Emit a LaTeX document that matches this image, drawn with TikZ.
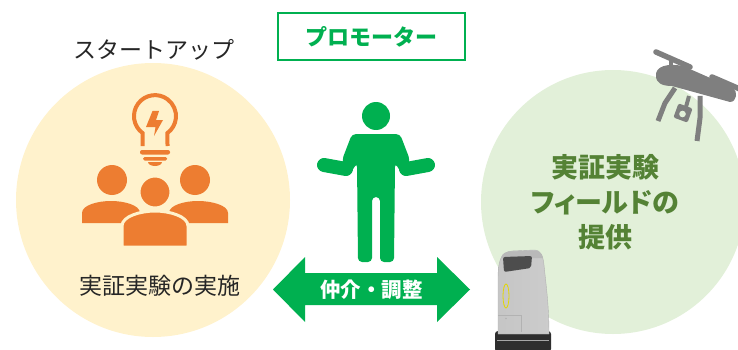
\documentclass[tikz,border=0pt]{standalone}
\usepackage{fontspec}
\newfontfamily\jp{Noto Sans CJK JP}
\newfontfamily\jpp{Noto Sans CJK JP}[RawFeature=+palt]
\definecolor{creamfill}{HTML}{FFF2CC}
\definecolor{mintfill}{HTML}{E2F0D9}
\definecolor{iconorange}{HTML}{ED7D31}
\definecolor{promogreen}{HTML}{00B050}
\definecolor{fieldgreen}{HTML}{548235}
\definecolor{textdark}{HTML}{262626}
\definecolor{dronegray}{HTML}{7F7F7F}
\definecolor{robotbase}{HTML}{2E2E2E}
\definecolor{robotscreen}{HTML}{4D4D4D}
\begin{document}
\begin{tikzpicture}[x=1pt,y=1pt,
  label/.style={font=\jp\fontsize{23}{27}\selectfont, text=textdark, inner sep=0pt},
  boldlabel/.style={font=\jp\bfseries\fontsize{22}{26}\selectfont, inner sep=0pt},
  fieldlabel/.style={font=\jpp\bfseries\fontsize{27}{35}\selectfont, text=fieldgreen, align=center, inner sep=0pt},
  orangefill/.style={fill=iconorange},
  greenfill/.style={fill=promogreen},
  dronepart/.style={draw=dronegray, line width=5.5},
]
\useasboundingbox (0,0) rectangle (738,-350);
\clip (0,0) rectangle (738,-350);

% the two background discs
\fill[creamfill] (153,-200) circle (137);
\fill[mintfill] (613,-202) circle (132);

% promoter box
\node[draw=promogreen, line width=1.8, fill=white, minimum width=187, minimum height=47,
      boldlabel, text=promogreen] (promoter) at (371.5,-36.5) {プロモーター};

% startup side labels
\node[label] (startup) at (154,-50) {スタートアップ};
\node[label] (trial) at (159.5,-286) {実証実験の実施};

% light bulb
\draw[iconorange, line width=4] (142.5,-146) -- (142.5,-133) arc (233.5:-53.5:21) -- (167.5,-146);
\fill[iconorange, rounded corners=2] (140,-150) rectangle (170,-154.5);
\fill[iconorange, rounded corners=1.5] (143,-157) rectangle (167,-160.5);
\fill[iconorange] (148,-162) arc (180:360:7 and 4) -- cycle;
\fill[iconorange] (152.5,-111) -- (159,-111) -- (156,-120) -- (163,-120)
   -- (154,-136) -- (155.5,-127) -- (146,-127) -- cycle;

% three people
\fill[orangefill] (112,-180) circle (15);
\fill[orangefill] (195,-180) circle (15);
\fill[orangefill] (82,-223) -- (82,-213) .. controls (82,-205) and (98,-201) .. (111,-201)
   .. controls (124,-201) and (140,-205) .. (140,-213) -- (140,-223) -- cycle;
\fill[orangefill] (169,-223) -- (169,-213) .. controls (169,-205) and (185,-201) .. (198,-201)
   .. controls (211,-201) and (228,-205) .. (228,-213) -- (228,-223) -- cycle;
\filldraw[orangefill, draw=creamfill, line width=3] (122,-247) -- (122,-226)
   .. controls (122,-216) and (141,-211) .. (155,-211)
   .. controls (169,-211) and (188,-216) .. (188,-226) -- (188,-247) -- cycle;
\filldraw[orangefill, draw=creamfill, line width=3] (155,-192) circle (16);

% promoter figure
\fill[greenfill] (376,-116) circle (14);
\fill[greenfill, rounded corners=4] (352,-134) -- (400,-134) -- (410,-160) -- (404,-177)
   -- (395,-163) -- (394,-262) -- (380,-262) -- (380,-197) -- (372,-197) -- (372,-262)
   -- (358,-262) -- (357,-163) -- (348,-177) -- (342,-160) -- cycle;
\draw[promogreen, line width=14, line cap=round] (346,-169) -- (324,-165);
\draw[promogreen, line width=14, line cap=round] (406,-169) -- (428,-165);

% mediation arrow
\fill[greenfill] (273,-289.5) -- (305,-257) -- (305,-273) -- (437,-273) -- (437,-257)
   -- (470,-289.5) -- (437,-322) -- (437,-305) -- (305,-305) -- (305,-322) -- cycle;
\node[font=\jp\bfseries\fontsize{20.5}{24}\selectfont, text=white, inner sep=0pt]
   (mediate) at (371.5,-290) {仲介・調整};

% field side label
\node[fieldlabel] (field) at (605,-202) {実証実験\\フィールドの\\提供};

% drone
\fill[dronegray] (656,-76) .. controls (655,-66) and (668,-63) .. (683,-66) -- (733,-88)
   .. controls (738,-91) and (737,-102) .. (730,-102) -- (672,-86)
   .. controls (662,-86) and (656,-83) .. (656,-76) -- cycle;
\draw[dronepart, line width=5.5, line cap=round] (656,-52) -- (690,-67);
\draw[dronepart, line width=4.5] (671,-58) -- (671,-71);
\draw[dronepart, line width=5.5, line cap=round] (712,-77) -- (742,-90);
\draw[dronepart, line width=4.5] (722,-82) -- (724,-93);
\draw[dronepart, line width=5, line join=round] (675,-88) -- (665,-103) -- (658,-121);
\draw[dronepart, line width=5, line join=round] (700,-96) -- (700,-118) -- (697,-141);
\draw[dronepart, line width=4] (689,-96) -- (686,-107);
\fill[dronegray, rotate around={-20:(683,-113)}, rounded corners=1.5]
   (675.5,-105.5) rectangle (690.5,-120.5);
\fill[mintfill] (682.5,-114) circle (3.3);

% delivery robot
\fill[robotbase, rounded corners=3] (495,-331) rectangle (551,-352);
\draw[gray!70, line width=0.8] (497,-340) -- (549,-340);
\shade[left color=gray!45, middle color=gray!12, right color=gray!40, draw=gray!60, line width=0.4]
   (498,-334) -- (498,-280) .. controls (498,-262) and (500,-252) .. (512,-251)
   -- (534,-250) .. controls (541,-250) and (543,-256) .. (544,-265)
   .. controls (546,-285) and (549,-305) .. (549,-334) -- cycle;
\fill[gray!55] (501,-258) .. controls (502,-253) and (506,-251.5) .. (512,-251.5)
   -- (534,-250.5) .. controls (539,-250.5) and (542,-253) .. (543,-258) -- cycle;
\fill[robotscreen, rounded corners=2] (503,-257) -- (532,-256) -- (531,-268) -- (504,-272) -- cycle;
\draw[yellow!75!olive, line width=0.8] (506,-296) ellipse (3 and 12);
\draw[gray!60, line width=0.5] (498,-315) -- (521,-315) -- (521,-332);
\fill[gray!60] (506,-318.5) circle (0.8);
\end{tikzpicture}
\end{document}
